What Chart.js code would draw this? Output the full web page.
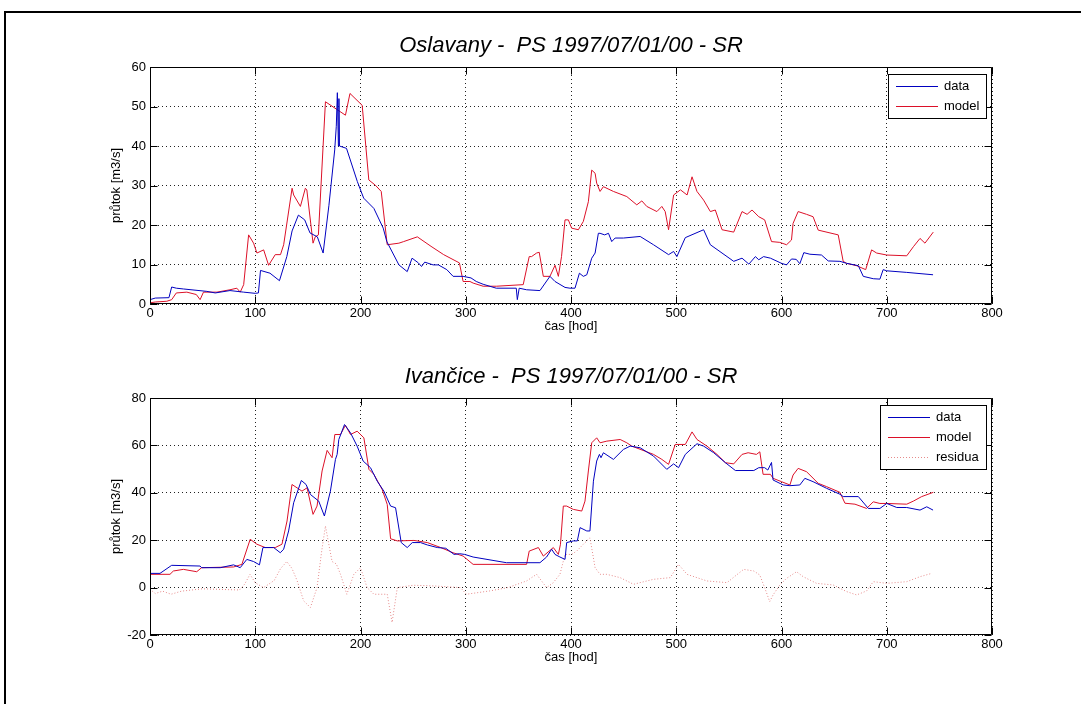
<!DOCTYPE html>
<html>
<head>
<meta charset="utf-8">
<script src="https://cdn.jsdelivr.net/npm/chart.js@4/dist/chart.umd.min.js"></script>
<style>
  html, body { margin: 0; padding: 0; background: #fff; overflow: hidden; }
  body { width: 1081px; height: 704px; position: relative; }
  .frame { position: absolute; left: 4px; top: 11px; width: 1200px; height: 800px; border: 2px solid #000; }
  canvas { position: absolute; left: 0; }
  #chartTop { top: 0; }
  #chartBottom { top: 331px; }
</style>
</head>
<body>
<div class="frame"></div>
<canvas id="chartTop" width="1081" height="334"></canvas>
<canvas id="chartBottom" width="1081" height="334"></canvas>
<script>
// Oslavany - hodiny a průtoky [m3/s]
const oslDataHours = [0, 5, 18, 20.6, 25, 32, 54, 62, 76, 89, 100, 103, 105, 114, 123, 130, 135, 141, 147, 152, 159, 164.5, 170, 175.5, 177, 178, 179, 179.5, 180, 186.7, 197, 203, 212.7, 221.6, 225, 236.5, 244.4, 249, 255, 258, 261, 269, 274, 282, 288, 297.5, 305, 310, 316.5, 329, 348, 349, 350.8, 357.8, 370.5, 380, 384.8, 394.3, 399, 403.8, 408, 411.7, 415, 419.7, 422.9, 426, 427.6, 432, 435.6, 438.7, 441.9, 449.8, 465.7, 478.4, 492.7, 497.5, 500.6, 508.6, 526, 532.4, 554.6, 562.5, 569, 575.2, 578.4, 583, 589.5, 600, 604.8, 609.5, 614, 617.4, 621.2, 627, 638, 644.4, 655.5, 661.9, 673, 677.7, 687.2, 693.5, 696.6, 700, 719, 744];
const oslDataFlow = [1.1, 1.5, 1.6, 4.3, 4.0, 3.8, 3.2, 2.8, 3.4, 3.0, 2.7, 2.8, 8.5, 7.8, 5.9, 12, 18.5, 22.5, 21.3, 18, 17, 12.9, 25, 39, 45, 53.5, 40, 52, 40, 39.4, 31, 26.8, 24.2, 19.2, 15.8, 9.9, 8.2, 11.6, 10.4, 9.5, 10.6, 9.9, 9.9, 8.7, 7.0, 7.0, 6.6, 5.7, 5.0, 4.0, 4.0, 1.1, 4.0, 3.6, 3.4, 7.0, 5.7, 4.2, 4.0, 4.0, 7.8, 7.0, 7.4, 11.6, 12.9, 17.9, 17.9, 17.5, 17.9, 15.8, 16.7, 16.7, 17.1, 15.0, 12.5, 13.3, 12.0, 16.8, 18.8, 15.0, 10.8, 11.6, 10.1, 12.0, 11.2, 12.0, 11.6, 10.3, 9.9, 11.4, 11.3, 10.2, 13.0, 12.6, 12.4, 10.9, 10.8, 10.3, 9.7, 7.0, 6.4, 6.3, 8.7, 8.4, 8.0, 7.4];
const oslModelHours = [0, 5, 16, 20.6, 25, 35, 44, 47.6, 50.8, 63.5, 76, 82.5, 85.7, 89, 93.7, 98.4, 101.6, 108, 112.7, 119, 124, 127, 135, 136.5, 142.9, 147.6, 149, 154.9, 157, 160, 166.7, 185.7, 190, 201.6, 207.9, 214, 219.7, 225.4, 236.5, 241, 254, 267, 279, 294, 297.5, 304, 307, 316.5, 329, 354.6, 360.3, 362.5, 367.3, 369.8, 373.7, 380, 384.8, 388, 391, 394.3, 397.5, 400.6, 407, 411.7, 416.5, 419.7, 422.9, 424.4, 427.6, 430.8, 440.3, 453, 462.5, 467.3, 472, 481.6, 486.3, 489.5, 492.7, 497.5, 504, 510.3, 515, 519.7, 526, 532.4, 537.1, 543.5, 554.6, 562.5, 567.3, 572, 578.4, 584, 590.5, 598.4, 604.8, 609.5, 611, 615.8, 623.8, 630, 634.9, 653.9, 658.6, 661.8, 671.3, 680, 685.6, 690.4, 700, 719, 725.3, 731.6, 736.3, 744.2];
const oslModelFlow = [0.3, 0.5, 0.7, 1.1, 2.8, 3.0, 2.4, 1.1, 3.0, 3.0, 3.6, 4.0, 3.0, 4.9, 17.5, 15.4, 12.9, 13.7, 9.8, 12.5, 12.5, 15, 29.3, 27.6, 24.7, 29.3, 28.9, 15.4, 17, 17.5, 51.2, 47.8, 53.3, 50.3, 31.4, 30.1, 28.5, 15, 15.4, 15.8, 17, 14.6, 12.5, 10.4, 5.7, 5.7, 5.3, 4.5, 4.5, 4.9, 12, 12, 12.9, 13.1, 7, 7, 9.8, 7, 12, 21.3, 21.3, 19.2, 18.8, 20.9, 25.9, 33.9, 33.1, 30.6, 28.5, 29.7, 28.5, 27.2, 25.1, 26.1, 24.7, 23.4, 24.7, 23.4, 18.8, 27.6, 28.9, 27.6, 32.2, 28.5, 26.3, 23.4, 23.8, 18.8, 18.2, 23.4, 22.7, 23.8, 22.1, 21.3, 15.8, 15.6, 15.0, 16.2, 20.4, 23.4, 22.7, 22.1, 18.7, 17.5, 10.8, 10.3, 9.7, 8.7, 13.7, 12.9, 12.4, 12.2, 14.5, 16.6, 15.4, 18.2];

// Ivančice
const ivaDataHours = [0, 9.5, 20.6, 47.6, 49, 66.7, 79.4, 85.7, 92, 98.4, 104, 107.3, 117.5, 123.8, 127, 131.7, 136.5, 143.8, 148.3, 152.4, 160.3, 165.7, 171.4, 176.2, 177.8, 179.4, 184.8, 190.5, 196.8, 202.5, 209.5, 215.9, 222.2, 228.6, 233.3, 238.7, 244.4, 249.2, 257, 263.5, 273, 281, 288.9, 294, 299, 307, 338.7, 370.5, 376.8, 381.6, 384.8, 389.5, 394.3, 395.9, 402.2, 406, 408.6, 415, 418, 421.3, 424.4, 427, 428.5, 430.8, 440.3, 449.8, 456.2, 465.7, 478.4, 491, 497.5, 502.2, 508.6, 519.7, 526, 535.6, 546.7, 556.2, 573.7, 578.4, 584, 587, 590.5, 592, 601.6, 608, 617.4, 622.2, 630, 642.8, 655.5, 658.6, 673, 682.5, 693.5, 700, 709.5, 719, 731.6, 738, 744];
const ivaDataFlow = [6.0, 6.0, 9.4, 9.1, 8.4, 8.4, 9.6, 8.4, 11.9, 11.0, 9.6, 16.9, 16.9, 14.7, 16.2, 23.9, 35.8, 45.2, 43.5, 39.3, 36.5, 30.2, 40.7, 54.1, 56.2, 62.5, 68.8, 65.3, 59.7, 53.4, 50.6, 44.9, 40.7, 34.4, 33.7, 19, 16.9, 19, 19, 18, 16.9, 16.6, 14, 14.3, 14, 12.9, 10.5, 10.5, 12.9, 16.2, 14, 12.9, 11.9, 19, 19.7, 19.7, 25.3, 23.9, 23.9, 44.9, 53.4, 56.2, 54.8, 56.9, 54.1, 58.3, 59.7, 59, 55.5, 49.9, 52.2, 50.6, 56.2, 60.7, 59.7, 56.9, 52.7, 49.4, 49.4, 50.6, 50.6, 49.6, 52.8, 45.4, 43.3, 43, 43.3, 46.1, 44.7, 41.9, 39.4, 38.4, 38.4, 33.4, 33.4, 35.5, 33.8, 33.8, 32.7, 34.1, 32.7];
const ivaModelHours = [0, 19, 22.2, 31.7, 44.4, 49, 79.4, 87.3, 95.2, 101.6, 109.5, 119, 125.4, 130.2, 134.9, 139.7, 144.4, 149.2, 154.9, 158.7, 163.5, 168.3, 173, 175.6, 181, 185.7, 190.5, 196.8, 203.2, 208, 212.7, 220.6, 225.4, 228.6, 235, 250.8, 263.5, 276.2, 288, 297.5, 307, 357.8, 360.3, 369, 373.7, 383.2, 388, 390, 392.7, 395.9, 402.2, 410.2, 413.3, 416.5, 419.7, 424.4, 427.6, 434, 446.7, 453, 457.8, 478.4, 486.3, 492.7, 499, 508.6, 515, 519.7, 529.2, 538.7, 546.7, 554.6, 562.5, 568.3, 576.2, 579.4, 582.5, 589.5, 592, 600, 608, 611, 615.8, 623.8, 634.9, 642.8, 655.5, 660.3, 669.8, 680.9, 687.2, 693.5, 700, 719, 725.3, 733.2, 744.2];
const ivaModelFlow = [5.6, 5.6, 7, 7.7, 6.7, 8.4, 8.7, 9.8, 20.4, 18.3, 16.9, 16.9, 18.3, 28.1, 43.5, 42.1, 40.7, 42.1, 30.9, 34.4, 49.2, 57.9, 54.8, 64.6, 64.6, 68.5, 64.6, 66, 63.2, 49.9, 47.8, 41.4, 35.1, 20.6, 19.7, 19.9, 19, 16.9, 14.7, 13.3, 9.8, 9.8, 15.4, 16.9, 13.3, 16.9, 14, 18.3, 34.4, 34.4, 33, 32.3, 36.5, 49.2, 61.1, 63.2, 61.1, 61.8, 62.5, 61.1, 59.7, 56.2, 54.1, 52, 60.4, 60.4, 65.7, 62.5, 59.7, 56.2, 52.7, 52.2, 56.2, 56.9, 56.2, 57.3, 47.8, 47.8, 46.1, 44.7, 43.3, 47.5, 50.3, 48.9, 44, 42.6, 40.2, 35.6, 35.2, 33.4, 36.2, 35.5, 35.5, 35.2, 36.5, 38.4, 40.2];
const ivaResidHours = [0, 5, 12, 20, 30, 50, 70, 85, 90, 95, 100, 108, 118, 124, 130, 135, 139.7, 146, 152.4, 158.7, 163, 166.7, 170, 173, 177, 181, 187, 193.7, 200, 206.3, 212.7, 225.4, 230, 235, 250, 270, 295, 300.6, 322.9, 340, 357.8, 367.3, 376.8, 383, 389.5, 394.3, 400.6, 405.4, 411.7, 418, 422.9, 427.6, 434, 446.7, 459.4, 478.4, 494.3, 502.2, 510.2, 529.2, 548.2, 564, 573.7, 579.4, 584, 588.8, 592, 598.4, 604.8, 614.3, 620.6, 633.3, 649.2, 661.9, 671.4, 680.9, 687.2, 700, 719, 731.6, 742.7];
const ivaResidFlow = [-0.7, -2.5, -1.5, -2.8, -1.5, -0.5, -0.8, -1, 1.5, 5.6, 2, 0, 3, 8, 11, 8, 3, -5.6, -8.4, 0, 15, 26, 18, 11, 10, 5.6, -2.8, 5.6, 8.4, 0, -2.8, -2.8, -14.7, 0, 1.0, 0.7, 0, -2.8, -1.4, 0, 2.8, 5.6, 0, 2, 5.6, 14, 14, 15.4, 18.3, 21, 8.4, 5.6, 5.6, 4.2, 1.4, 3.5, 4.2, 9.8, 5.6, 2.8, 2.1, 7.7, 7, 5.3, 0, -5.9, -3.1, 1.1, 3.9, 6.7, 4.6, 1.8, 1.1, -1.7, -3.1, -1.4, 2.5, 1.8, 2.5, 4.6, 6];

const hourTicks = { min: 0, max: 800, step: 100 };

const FONT = '"Liberation Sans", Arial, sans-serif';
const BLUE = '#0000c0';
const RED = '#dc1028';

document.addEventListener('DOMContentLoaded', function () {
    const toPoints = (xs, ys) => xs.map((x, i) => ({ x: x, y: ys[i] }));

    // box around the axes with inward ticks on all four sides
    const axesBoxPlugin = {
        id: 'axesBox',
        afterDatasetsDraw(chart) {
            const { ctx, chartArea: a, scales } = chart;
            const len = 7;
            const left = Math.round(a.left) + 0.5;
            const right = Math.round(a.right) - 0.5;
            const top = Math.round(a.top) + 0.5;
            const bottom = Math.round(a.bottom) - 0.5;
            ctx.save();
            ctx.strokeStyle = '#000';
            ctx.lineWidth = 1;
            ctx.beginPath();
            scales.x.ticks.forEach(t => {
                const px = Math.round(scales.x.getPixelForValue(t.value)) + 0.5;
                ctx.moveTo(px, bottom); ctx.lineTo(px, bottom - len);
                ctx.moveTo(px, top); ctx.lineTo(px, top + len);
            });
            scales.y.ticks.forEach(t => {
                const py = Math.round(scales.y.getPixelForValue(t.value)) + 0.5;
                ctx.moveTo(left, py); ctx.lineTo(left + len, py);
                ctx.moveTo(right, py); ctx.lineTo(right - len, py);
            });
            ctx.rect(left, top, right - left, bottom - top);
            ctx.stroke();
            ctx.restore();
        }
    };

    // legend box in the upper right corner of the axes
    const boxLegendPlugin = {
        id: 'boxLegend',
        afterDraw(chart) {
            const { ctx, chartArea } = chart;
            const sets = chart.data.datasets;
            ctx.save();
            ctx.font = '13px ' + FONT;
            const textW = Math.max(...sets.map(d => ctx.measureText(d.label).width));
            const rowH = 20;
            const w = Math.round(8 + 42 + 6 + textW + 7);
            const h = sets.length * rowH + 4;
            const x = Math.round(chartArea.right - 6 - w);
            const y = Math.round(chartArea.top + 7);
            ctx.fillStyle = '#fff';
            ctx.fillRect(x, y, w, h);
            ctx.strokeStyle = '#000';
            ctx.lineWidth = 1;
            ctx.strokeRect(x + 0.5, y + 0.5, w, h);
            sets.forEach((d, i) => {
                const cy = Math.round(y + 2 + rowH * i + rowH / 2) + 0.5;
                ctx.strokeStyle = d.borderColor;
                ctx.setLineDash(d.borderDash || []);
                ctx.beginPath();
                ctx.moveTo(x + 8, cy);
                ctx.lineTo(x + 50, cy);
                ctx.stroke();
                ctx.setLineDash([]);
                ctx.fillStyle = '#000';
                ctx.textBaseline = 'middle';
                ctx.fillText(d.label, x + 56, cy);
            });
            ctx.restore();
        }
    };

    const line = (label, xs, ys, color, dash) => ({
        label: label,
        data: toPoints(xs, ys),
        borderColor: color,
        borderWidth: 1,
        borderDash: dash || [],
        pointRadius: 0,
        fill: false,
        tension: 0
    });

    const makeOptions = (title, yMin, yMax, yStep) => ({
        responsive: false,
        animation: false,
        events: [],
        layout: { padding: { left: 103, right: 89, top: 0, bottom: 0 } },
        plugins: {
            legend: { display: false },
            tooltip: { enabled: false },
            title: {
                display: true,
                text: title,
                fullSize: false,
                color: '#000',
                font: { family: FONT, size: 22, style: 'italic', weight: 'normal', lineHeight: 1.2 },
                padding: { top: 33, bottom: 7.6 }
            }
        },
        scales: {
            x: {
                type: 'linear',
                min: hourTicks.min,
                max: hourTicks.max,
                ticks: {
                    stepSize: hourTicks.step,
                    autoSkip: false,
                    maxRotation: 0,
                    color: '#000',
                    font: { family: FONT, size: 13 },
                    padding: 2
                },
                grid: { color: '#222', lineWidth: 1, drawTicks: false },
                border: { display: false, dash: [1, 3] },
                title: {
                    display: true,
                    text: 'čas [hod]',
                    color: '#000',
                    font: { family: FONT, size: 13 },
                    padding: 0
                },
                afterFit: s => { s.height = 30; }
            },
            y: {
                min: yMin,
                max: yMax,
                ticks: {
                    stepSize: yStep,
                    color: '#000',
                    font: { family: FONT, size: 13 },
                    padding: 4
                },
                grid: { color: '#222', lineWidth: 1, drawTicks: false },
                border: { display: false, dash: [1, 3] },
                title: {
                    display: true,
                    text: 'průtok [m3/s]',
                    color: '#000',
                    font: { family: FONT, size: 13 },
                    padding: { top: 6, bottom: 0 }
                },
                afterFit: s => { s.width = 47; }
            }
        }
    });

    new Chart(document.getElementById('chartTop').getContext('2d'), {
        type: 'line',
        data: {
            datasets: [
                line('data', oslDataHours, oslDataFlow, BLUE),
                line('model', oslModelHours, oslModelFlow, RED)
            ]
        },
        options: makeOptions('Oslavany -  PS 1997/07/01/00 - SR', 0, 60, 10),
        plugins: [axesBoxPlugin, boxLegendPlugin]
    });

    new Chart(document.getElementById('chartBottom').getContext('2d'), {
        type: 'line',
        data: {
            datasets: [
                line('data', ivaDataHours, ivaDataFlow, BLUE),
                line('model', ivaModelHours, ivaModelFlow, RED),
                line('residua', ivaResidHours, ivaResidFlow, '#e68a8a', [1, 2])
            ]
        },
        options: makeOptions('Ivančice -  PS 1997/07/01/00 - SR', -20, 80, 20),
        plugins: [axesBoxPlugin, boxLegendPlugin]
    });
});
</script>
</body>
</html>
